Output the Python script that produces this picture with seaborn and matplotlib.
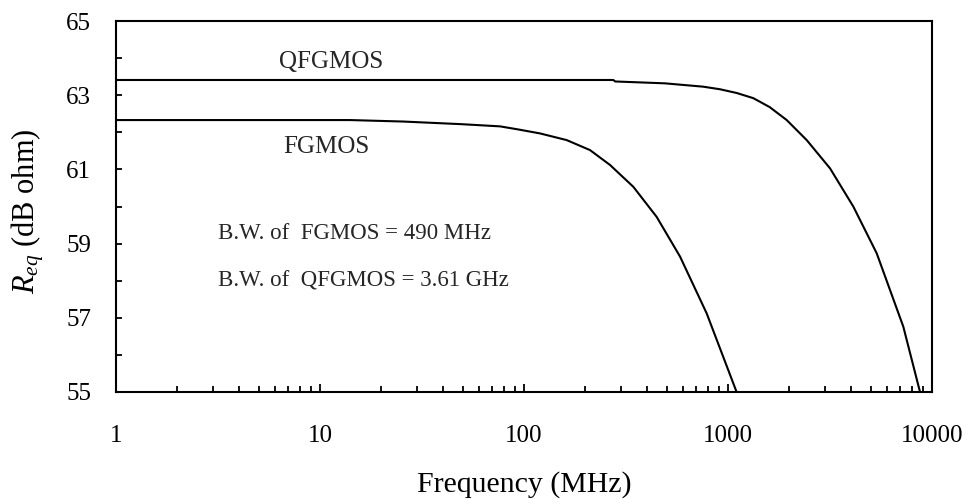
import numpy as np
import pandas as pd
import matplotlib
matplotlib.use("Agg")
import matplotlib.pyplot as plt
from matplotlib.ticker import FixedLocator, LogLocator, NullFormatter
import seaborn as sns

# ---- data ----
fg_freq = [1, 14, 25.6, 49, 76.3, 93, 119.8, 161.9, 210.7, 264, 343.6, 447, 582, 786, 1102]
fg_req = [62.33, 62.33, 62.29, 62.22, 62.16, 62.08, 61.97, 61.79, 61.52, 61.12, 60.53,
          59.72, 58.65, 57.12, 55.0]

qfg_freq = [1, 274, 280, 490, 755, 914, 1102, 1331, 1600, 1940, 2431, 3162, 4113, 5356,
            7235, 8735]
qfg_req = [63.41, 63.41, 63.37, 63.32, 63.23, 63.16, 63.06, 62.92, 62.68, 62.33, 61.79,
           61.03, 60.00, 58.74, 56.76, 55.0]

y_ticks = [55, 57, 59, 61, 63, 65]
y_minor = [56, 58, 60, 62, 64]
x_ticks = [1, 10, 100, 1000, 10000]
x_ticklabels = ["1", "10", "100", "1000", "10000"]

df = pd.concat([
    pd.DataFrame({"freq": fg_freq, "req": fg_req, "device": "FGMOS"}),
    pd.DataFrame({"freq": qfg_freq, "req": qfg_req, "device": "QFGMOS"}),
])

sns.set_theme(style="ticks")
plt.rcParams["font.family"] = ["Liberation Serif", "DejaVu Serif"]
plt.rcParams["mathtext.fontset"] = "custom"
plt.rcParams["mathtext.rm"] = "Liberation Serif"
plt.rcParams["mathtext.it"] = "Liberation Serif:italic"

fig = plt.figure(figsize=(9.74, 4.99), dpi=100)
ax = fig.add_axes([116 / 974, 1 - 392 / 499, (932 - 116) / 974, (392 - 21) / 499])

sns.lineplot(data=df, x="freq", y="req", hue="device", palette=["black", "black"],
             linewidth=1.5, legend=False, ax=ax, sort=True, estimator=None)

ax.set_xscale("log")
ax.set_xlim(1, 10000)
ax.set_ylim(55, 65)
ax.set_xticks(x_ticks)
ax.set_xticklabels(x_ticklabels)
ax.xaxis.set_minor_locator(LogLocator(base=10, subs=np.arange(2, 10)))
ax.xaxis.set_minor_formatter(NullFormatter())
ax.yaxis.set_major_locator(FixedLocator(y_ticks))
ax.yaxis.set_minor_locator(FixedLocator(y_minor))
ax.set_yticklabels([str(v) for v in y_ticks])

for s in ax.spines.values():
    s.set_linewidth(1.5)
    s.set_color("black")
ax.tick_params(axis="both", which="both", direction="in", color="black", width=1.3,
               labelsize=18, labelcolor="black")
ax.tick_params(axis="x", which="major", length=5.5, pad=24)
ax.tick_params(axis="x", which="minor", length=4)
ax.tick_params(axis="y", which="both", length=4, pad=18)

ax.set_xlabel("Frequency (MHz)", fontsize=21.5, color="black")
ax.xaxis.set_label_coords(0.5, -0.212)
ax.xaxis.label.set_va("top")
ax.set_ylabel(r"$R_{eq}$ (dB ohm)", fontsize=22, color="black")
ax.yaxis.set_label_coords(-0.086, 0.4865)

ax.text(6.3, 63.73, "QFGMOS", fontsize=18, va="baseline", ha="left")
ax.text(6.59, 61.43, "FGMOS", fontsize=18, va="baseline", ha="left")
ax.text(3.16, 59.12, "B.W. of  FGMOS = 490 MHz", fontsize=16.5, va="baseline", ha="left")
ax.text(3.16, 57.84, "B.W. of  QFGMOS = 3.61 GHz", fontsize=16.5, va="baseline", ha="left")

fig.savefig("out.png", dpi=100, facecolor="white")
